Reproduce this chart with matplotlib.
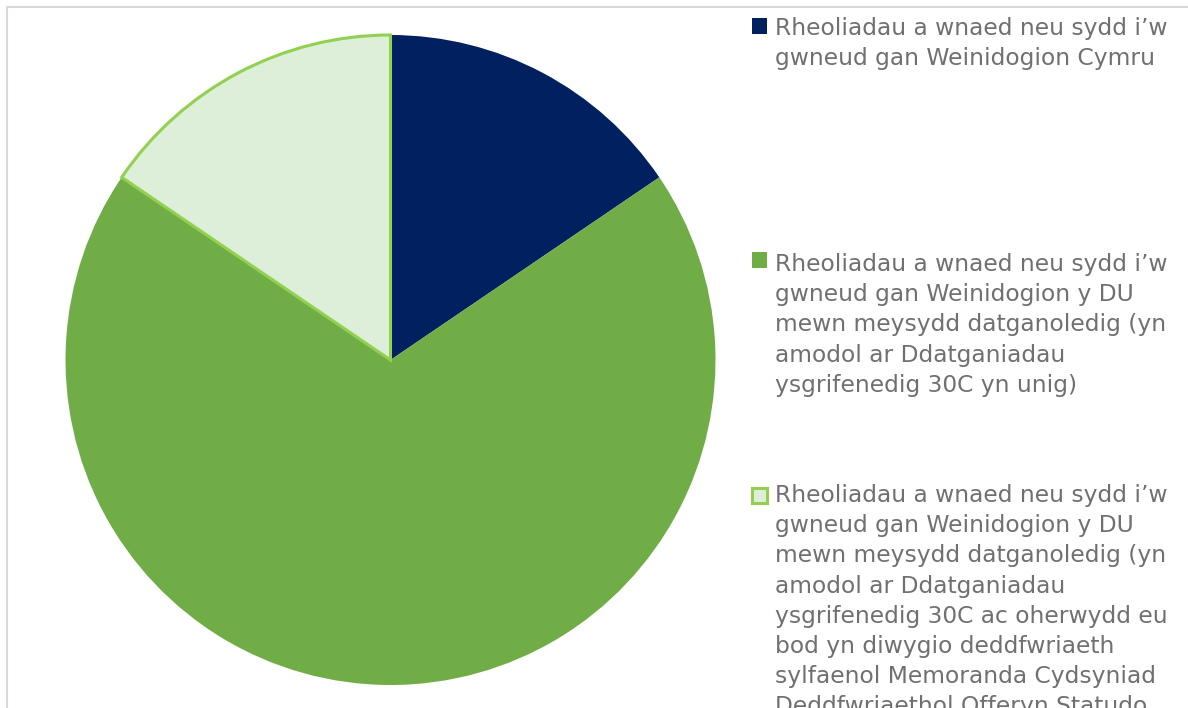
import matplotlib.pyplot as plt
from matplotlib.patches import Rectangle

categories = [
    "Rheoliadau a wnaed neu sydd i’w\ngwneud gan Weinidogion Cymru",
    "Rheoliadau a wnaed neu sydd i’w\ngwneud gan Weinidogion y DU\nmewn meysydd datganoledig (yn\n"
    "amodol ar Ddatganiadau\nysgrifenedig 30C yn unig)",
    "Rheoliadau a wnaed neu sydd i’w\ngwneud gan Weinidogion y DU\nmewn meysydd datganoledig (yn\n"
    "amodol ar Ddatganiadau\nysgrifenedig 30C ac oherwydd eu\nbod yn diwygio deddfwriaeth\n"
    "sylfaenol Memoranda Cydsyniad\nDeddfwriaethol Offeryn Statudo",
]
values = [15.5, 69.0, 15.5]
colors = ["#002060", "#70AD47", "#DDEFD9"]

W, H = 1188, 708
fig = plt.figure(figsize=(W / 100, H / 100), dpi=100)

# chart frame (only left/top visible)
fig.patches.append(Rectangle((7 / W, -0.1), 1.2, (H - 7) / H + 0.1, transform=fig.transFigure,
                             fill=False, edgecolor="#D9D9D9", linewidth=1.5))

cx, cy, r = 390.5, H - 360, 325
ax = fig.add_axes([(cx - r) / W, (cy - r) / H, 2 * r / W, 2 * r / H])
wedges, _ = ax.pie(values, colors=colors, startangle=90, counterclock=False,
                   radius=1, wedgeprops=dict(linewidth=0))
wedges[2].set_edgecolor("#92D050")
wedges[2].set_linewidth(2.2)
ax.set_xlim(-1.0, 1.0)
ax.set_ylim(-1.0, 1.0)
ax.set_aspect("equal")
ax.axis("off")

# legend drawn by hand (pixel y of first-line cap top, marker centre)
cap_tops = [18, 254, 485]
mark_y = [26, 260, 495]
for label, col, yt, ym in zip(categories, colors, cap_tops, mark_y):
    light = col == "#DDEFD9"
    fig.patches.append(Rectangle((752 / W, (H - ym - 7.5) / H), 15 / W, 15 / H,
                                 transform=fig.transFigure, facecolor=col,
                                 edgecolor="#92D050" if light else col,
                                 linewidth=2.2 if light else 0))
    fig.text(775 / W, (H - yt + 1) / H, label, ha="left", va="top",
             fontsize=16.8, color="#707070", family="DejaVu Sans",
             linespacing=1.40)

plt.savefig("out.png", dpi=100)
